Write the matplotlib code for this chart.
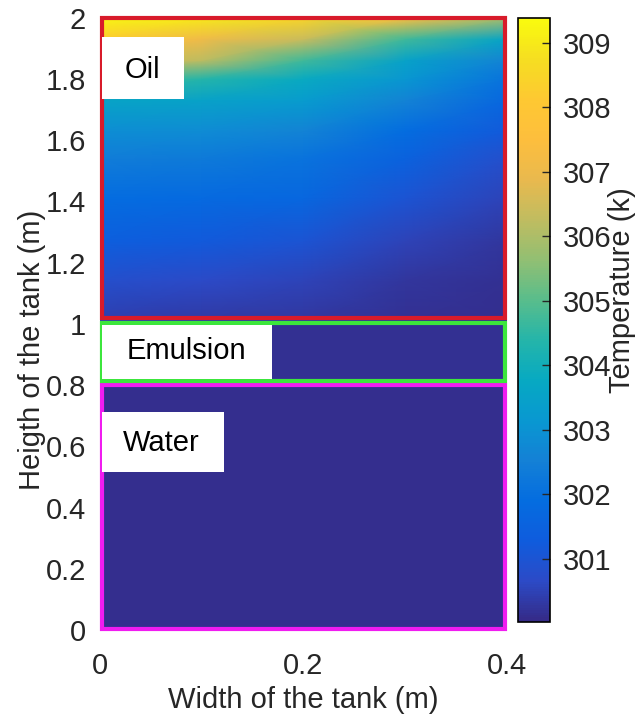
import numpy as np
import matplotlib
matplotlib.use('agg')
import matplotlib.pyplot as plt
from matplotlib.colors import LinearSegmentedColormap
from matplotlib.patches import Rectangle

plt.rcParams['font.family'] = ['Liberation Sans', 'DejaVu Sans']

# temperature field in the oil layer (K)
oil_x = [0.0, 0.1, 0.2, 0.3, 0.4]
oil_y = [1.0, 1.14, 1.27, 1.41, 1.54, 1.63, 1.73, 1.80, 1.86, 1.93, 2.0]
oil_T = [
    [300.4, 300.3, 300.25, 300.15, 300.1],
    [300.8, 300.65, 300.5, 300.25, 300.15],
    [301.4, 301.2, 301.0, 300.5, 300.25],
    [301.9, 301.8, 301.7, 301.0, 300.5],
    [302.4, 302.3, 302.1, 301.5, 300.8],
    [302.9, 302.8, 302.6, 301.9, 301.2],
    [303.6, 303.5, 303.3, 302.6, 301.7],
    [305.0, 304.4, 303.8, 303.1, 302.1],
    [306.8, 306.2, 304.7, 303.5, 302.6],
    [308.2, 307.1, 306.4, 304.7, 303.6],
    [309.3, 309.0, 308.5, 307.5, 306.0],
]
emulsion_T = 300.15
water_T = 300.1

tank_width = 0.4
layer_bottom = [0.0, 0.8, 1.0]
layer_top = [0.8, 1.0, 2.0]
layer_names = ['Water', 'Emulsion', 'Oil']

t_min, t_max = 300.02, 309.38
cbar_ticks = [301, 302, 303, 304, 305, 306, 307, 308, 309]
xticks = [0, 0.2, 0.4]
yticks = [0, 0.2, 0.4, 0.6, 0.8, 1, 1.2, 1.4, 1.6, 1.8, 2]

# parula-like colormap
parula = LinearSegmentedColormap.from_list('parula', [
    (0.2081, 0.1663, 0.5292), (0.1707, 0.2919, 0.7792), (0.0591, 0.3598, 0.8683),
    (0.0165, 0.4266, 0.8786), (0.0779, 0.5040, 0.8384), (0.0343, 0.5966, 0.8199),
    (0.0267, 0.6642, 0.7607), (0.1453, 0.7098, 0.6646), (0.3482, 0.7424, 0.5473),
    (0.5709, 0.7485, 0.4494), (0.7525, 0.7384, 0.3768), (0.9139, 0.7258, 0.3063),
    (0.9938, 0.7455, 0.2403), (0.9955, 0.7861, 0.1967), (0.9626, 0.8705, 0.1309),
    (0.9763, 0.9831, 0.0538)])

fs = 21

fig = plt.figure(figsize=(6.43, 7.14), dpi=100)
ax = fig.add_axes([0.1555, 0.1176, 0.6330, 0.8578])
cax = fig.add_axes([0.8056, 0.1289, 0.0498, 0.8459])

X, Y = np.meshgrid(oil_x, oil_y)
im = ax.pcolormesh(X, Y, np.array(oil_T), cmap=parula, vmin=t_min, vmax=t_max,
                   shading='gouraud')
ax.pcolormesh([0, tank_width], [layer_bottom[1], layer_top[1]],
              np.full((2, 2), emulsion_T), cmap=parula, vmin=t_min, vmax=t_max,
              shading='gouraud')
ax.pcolormesh([0, tank_width], [layer_bottom[0], layer_top[0]],
              np.full((2, 2), water_T), cmap=parula, vmin=t_min, vmax=t_max,
              shading='gouraud')

# layer outlines
ax.add_patch(Rectangle((0.002, layer_bottom[2] + 0.02), tank_width - 0.004,
                       layer_top[2] - layer_bottom[2] - 0.02, fill=False,
                       edgecolor='#d81b2a', lw=3, clip_on=False, zorder=4))
ax.add_patch(Rectangle((0.002, 0.003), tank_width - 0.004, layer_top[0] - 0.003,
                       fill=False, edgecolor='#f01cf0', lw=3, clip_on=False, zorder=4))
ax.add_patch(Rectangle((0.002, layer_bottom[1] + 0.012), tank_width - 0.004,
                       layer_top[1] - layer_bottom[1] - 0.008, fill=False,
                       edgecolor='#3ce63c', lw=3, clip_on=False, zorder=5))

# white label boxes
ax.add_patch(Rectangle((0.002, 1.735), 0.081, 0.2, facecolor='white',
                       edgecolor='none', zorder=6))
ax.text(0.042, 1.83, layer_names[2], fontsize=fs, ha='center', va='center', zorder=7)
ax.add_patch(Rectangle((0.002, 0.82), 0.167, 0.175, facecolor='white',
                       edgecolor='none', zorder=6))
ax.text(0.085, 0.912, layer_names[1], fontsize=fs, ha='center', va='center', zorder=7)
ax.add_patch(Rectangle((0.002, 0.515), 0.12, 0.197, facecolor='white',
                       edgecolor='none', zorder=6))
ax.text(0.060, 0.611, layer_names[0], fontsize=fs, ha='center', va='center', zorder=7)

ax.set_xlim(0, tank_width)
ax.set_ylim(0, 2)
ax.set_xticks(xticks)
ax.set_xticklabels(['0', '0.2', '0.4'])
ax.set_yticks(yticks)
ax.set_yticklabels(['0', '0.2', '0.4', '0.6', '0.8', '1', '1.2', '1.4', '1.6', '1.8', '2'])
ax.tick_params(length=0, labelsize=fs, colors='#262626')
ax.tick_params(axis='y', pad=10)
ax.tick_params(axis='x', pad=16)
for s in ax.spines.values():
    s.set_visible(False)
ax.set_xlabel('Width of the tank (m)', fontsize=fs, color='#262626', labelpad=4)
ax.set_ylabel('Heigth of the tank (m)', fontsize=fs, color='#262626')
ax.yaxis.set_label_coords(-0.133, 0.457)

cb = fig.colorbar(im, cax=cax, ticks=cbar_ticks)
cb.outline.set_linewidth(1.2)
cax.tick_params(direction='in', length=6, width=1, labelsize=fs, colors='#262626', pad=9)
cb.set_label('Temperature (k)', fontsize=fs, color='#262626')
cax.yaxis.set_label_coords(2.8, 0.55)

fig.savefig('out.png', dpi=100)
